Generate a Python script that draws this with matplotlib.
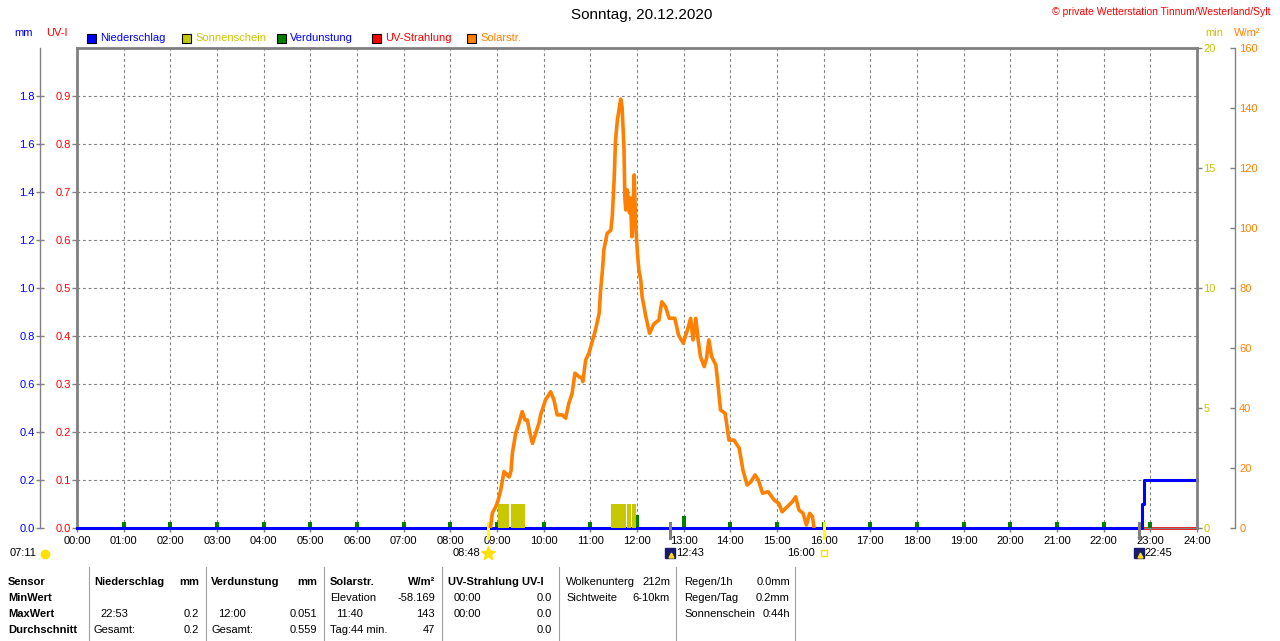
import numpy as np
import matplotlib.pyplot as plt
import matplotlib.transforms as mtransforms
from matplotlib.patches import Rectangle
from matplotlib.lines import Line2D

plt.rcParams['font.family'] = ['Liberation Sans', 'DejaVu Sans']

# ── Daten ────────────────────────────────────────────────────────
solar_time = [8.86, 8.90, 8.97, 9.02, 9.08, 9.15, 9.20, 9.26, 9.30, 9.33, 9.40, 9.47,
              9.54, 9.60, 9.65, 9.70, 9.76, 9.83, 9.90, 9.94, 10.04, 10.15, 10.22,
              10.29, 10.40, 10.47, 10.54, 10.61, 10.67, 10.76, 10.82, 10.84, 10.90,
              10.97, 11.04, 11.11, 11.19, 11.22, 11.26, 11.29, 11.36, 11.44, 11.47,
              11.51, 11.54, 11.58, 11.65, 11.68, 11.72, 11.74, 11.76, 11.79, 11.82,
              11.84, 11.86, 11.89, 11.92, 11.94, 11.97, 12.01, 12.04, 12.08, 12.11,
              12.15, 12.19, 12.27, 12.36, 12.47, 12.53, 12.61, 12.69, 12.81, 12.89,
              12.99, 13.08, 13.15, 13.20, 13.26, 13.31, 13.36, 13.44, 13.49, 13.54,
              13.60, 13.69, 13.74, 13.79, 13.89, 13.97, 14.08, 14.19, 14.27, 14.36,
              14.44, 14.53, 14.60, 14.69, 14.81, 14.94, 15.04, 15.11, 15.22, 15.33,
              15.40, 15.47, 15.56, 15.63, 15.70, 15.76, 15.79]
solar_wm2 = [0, 5, 7, 9, 12.7, 18.8, 18, 17, 19, 25, 31.6, 34.9,
             38.8, 36, 36, 32, 28.2, 31.6, 35, 38, 42.7, 45.4, 42.7,
             37.7, 37.7, 36.6, 41.6, 44.9, 51.6, 50.4, 50, 48.8, 56,
             58.3, 62.1, 66, 71.6, 79.3, 86, 92.7, 98.2, 99.3, 103.8,
             116, 129.3, 136, 143, 140.4, 127, 110, 106, 112.7, 108,
             105, 110, 97.1, 108, 117.7, 101.6, 91.6, 86, 82.7, 77,
             73.8, 70.4, 64.9, 68, 69.3, 75.4, 73.8, 69.9, 69.9, 64.3,
             61.6, 66, 69.9, 62.7, 69.9, 62.7, 57.1, 53.8, 56.6, 62.7,
             57.1, 54.3, 47.1, 39.3, 38.2, 29.3, 29.3, 26.6, 19.3, 14.3,
             15.4, 17.7, 16, 11.6, 12.1, 9.3, 8.2, 5.4, 7.1, 8.8,
             10.4, 6, 4.9, 1, 4.9, 3.8, 0.4]

sun_start = [9.03, 9.29, 11.45, 11.79, 11.90]
sun_end = [9.26, 9.59, 11.76, 11.87, 11.97]
sun_min = [1.0, 1.0, 1.0, 1.0, 1.0]

evap_hours = list(range(1, 24))
evap_mm = [0.024] * 11 + [0.055, 0.048] + [0.024] * 10

precip_time = [0, 22.83, 22.87, 24]
precip_mm = [0.0, 0.1, 0.2, 0.2]

uv_time = [0, 24]
uv_index = [0.0, 0.0]

hours = list(range(25))
hour_labels = [f"{h:02d}:00" for h in hours]
mm_ticks = [0.0, 0.2, 0.4, 0.6, 0.8, 1.0, 1.2, 1.4, 1.6, 1.8]
uv_ticks = [0.0, 0.1, 0.2, 0.3, 0.4, 0.5, 0.6, 0.7, 0.8, 0.9]
min_ticks = [0, 5, 10, 15, 20]
wm2_ticks = [0, 20, 40, 60, 80, 100, 120, 140, 160]

event_times = [8.80, 12.717, 16.0, 22.75]
event_labels = ["08:48", "12:43", "16:00", "22:45"]

legend_names = ["Niederschlag", "Sonnenschein", "Verdunstung", "UV-Strahlung", "Solarstr."]
legend_colors = ["#0000FF", "#C8C800", "#008000", "#FF0000", "#FF8000"]
legend_text_colors = ["#0000FF", "#C8C800", "#0000FF", "#FF0000", "#FF8000"]

# Tabelle unten: (x, zeile, text, ausrichtung, fett)
table_cells = [
    (8, 0, "Sensor", "left", True), (8, 1, "MinWert", "left", True),
    (8, 2, "MaxWert", "left", True), (8, 3, "Durchschnitt", "left", True),
    (94, 0, "Niederschlag", "left", True), (199, 0, "mm", "right", True),
    (100, 2, "22:53", "left", False), (199, 2, "0.2", "right", False),
    (94, 3, "Gesamt:", "left", False), (199, 3, "0.2", "right", False),
    (211, 0, "Verdunstung", "left", True), (317, 0, "mm", "right", True),
    (218, 2, "12:00", "left", False), (317, 2, "0.051", "right", False),
    (212, 3, "Gesamt:", "left", False), (317, 3, "0.559", "right", False),
    (330, 0, "Solarstr.", "left", True), (435, 0, "W/m²", "right", True),
    (330, 1, "Elevation", "left", False), (435, 1, "-58.169", "right", False),
    (336, 2, "11:40", "left", False), (435, 2, "143", "right", False),
    (330, 3, "Tag:44 min.", "left", False), (435, 3, "47", "right", False),
    (448, 0, "UV-Strahlung UV-I", "left", True),
    (454, 1, "00:00", "left", False), (552, 1, "0.0", "right", False),
    (454, 2, "00:00", "left", False), (552, 2, "0.0", "right", False),
    (552, 3, "0.0", "right", False),
    (566, 0, "Wolkenunterg", "left", False), (670, 0, "212m", "right", False),
    (566, 1, "Sichtweite", "left", False), (670, 1, "6-10km", "right", False),
    (684, 0, "Regen/1h", "left", False), (790, 0, "0.0mm", "right", False),
    (684, 1, "Regen/Tag", "left", False), (790, 1, "0.2mm", "right", False),
    (684, 2, "Sonnenschein", "left", False), (790, 2, "0:44h", "right", False),
]
table_rows_y = [582, 598, 614, 630]
table_separators = [89, 206, 324, 442, 559, 676, 795]

W, H = 1280, 641
PT = 0.72  # Pixel -> Punkt bei 100 dpi


def fx(x):
    return x / W


def fy(y):
    return 1 - y / H


GRAY = "#808080"

fig = plt.figure(figsize=(12.8, 6.41), dpi=100, facecolor="white")

# ── Hauptachse (mm) ──────────────────────────────────────────────
ax = fig.add_axes([fx(77), fy(528), 1120 / W, 480 / H])
ax.patch.set_visible(False)
ax.set_xlim(0, 24)
ax.set_ylim(0, 2.0)
ax.tick_params(axis="x", direction="out", length=4 * PT, width=1, color=GRAY,
               pad=3, labelsize=8)
ax.tick_params(axis="y", direction="inout", length=8 * PT, width=1, color=GRAY,
               pad=1, labelsize=8, labelcolor="#0000FF")
ax.set_xticks(hours)
ax.set_xticklabels(hour_labels)
ax.set_yticks(mm_ticks)
ax.set_yticklabels([f"{v:.1f}" for v in mm_ticks])
ax.spines["left"].set_position(("outward", 37 * PT))
ax.spines["left"].set_color(GRAY)
ax.spines["left"].set_linewidth(1)
ax.spines["right"].set_visible(False)
ax.spines["top"].set_color(GRAY)
ax.spines["top"].set_linewidth(2)
ax.spines["bottom"].set_color(GRAY)
ax.spines["bottom"].set_linewidth(1)
ax.grid(True, color=GRAY, linestyle=(0, (2.5, 2.5)), linewidth=0.8)

ax.bar(evap_hours, evap_mm, width=0.09, color="#008000", zorder=3)
ax.plot(precip_time, precip_mm, drawstyle="steps-post", color="#0000FF",
        linewidth=2.2, zorder=4, clip_on=False)

# ── UV-I (links, am Rahmen) ──────────────────────────────────────
ax_uv = ax.twinx()
ax_uv.set_zorder(-1)
ax_uv.set_ylim(0, 1.0)
ax_uv.yaxis.set_ticks_position("left")
ax_uv.yaxis.set_label_position("left")
ax_uv.tick_params(axis="y", direction="out", length=5 * PT, width=1, color=GRAY,
                  pad=1, labelsize=8, labelcolor="#FF0000")
ax_uv.set_yticks(uv_ticks)
ax_uv.set_yticklabels([f"{v:.1f}" for v in uv_ticks])
for name, sp in ax_uv.spines.items():
    sp.set_visible(name == "left")
ax_uv.spines["left"].set_color(GRAY)
ax_uv.spines["left"].set_linewidth(2)
ax_uv.plot(uv_time, uv_index, color="#FF0000", linewidth=2, clip_on=False)

# ── Sonnenschein (min, rechts am Rahmen) ─────────────────────────
ax_min = ax.twinx()
ax_min.set_ylim(0, 20)
ax_min.tick_params(axis="y", direction="out", length=5 * PT, width=1, color=GRAY,
                   pad=1, labelsize=8, labelcolor="#C8C800")
ax_min.set_yticks(min_ticks)
ax_min.set_yticklabels([str(v) for v in min_ticks])
for name, sp in ax_min.spines.items():
    sp.set_visible(name == "right")
ax_min.spines["right"].set_color(GRAY)
ax_min.spines["right"].set_linewidth(2)
ax_min.bar(sun_start, sun_min, width=np.subtract(sun_end, sun_start),
           align="edge", color="#C8C800", zorder=2)

# ── Solarstrahlung (W/m², aeussere rechte Achse) ─────────────────
ax_sol = ax.twinx()
ax_sol.set_ylim(0, 160)
ax_sol.tick_params(axis="y", direction="in", length=5 * PT, width=1, color=GRAY,
                   pad=3, labelsize=8, labelcolor="#FF8000")
ax_sol.set_yticks(wm2_ticks)
ax_sol.set_yticklabels([str(v) for v in wm2_ticks])
for name, sp in ax_sol.spines.items():
    sp.set_visible(name == "right")
ax_sol.spines["right"].set_position(("outward", 38 * PT))
ax_sol.spines["right"].set_color(GRAY)
ax_sol.spines["right"].set_linewidth(1)
ax_sol.plot(solar_time, solar_wm2, color="#FF8000", linewidth=2.6, zorder=5)

# ── Auf-/Untergangsmarken ────────────────────────────────────────
trans = mtransforms.blended_transform_factory(ax.transData, ax.transAxes)
mark_colors = ["#FFFF00", GRAY, "#FFFF00", GRAY]
for t, lab, c in zip(event_times, event_labels, mark_colors):
    ax.plot([t, t], [0.01, -0.02], transform=trans, color=c, linewidth=2.2,
            clip_on=False, zorder=6)
ylab = -25 / 480
# Sonnenaufgang
ax.text(event_times[0] - 0.15, ylab, event_labels[0], transform=trans, fontsize=8,
        ha="right", va="center")
ax.plot(event_times[0], ylab, transform=trans, marker="*", markersize=10,
        color="#FFE000", clip_on=False)
# Mondauf-/untergang
for i in (1, 3):
    ax.plot(event_times[i], ylab, transform=trans, marker="s", markersize=7,
            color="#1a1a6e", clip_on=False)
    ax.plot(event_times[i] + 0.02, ylab - 0.004, transform=trans, marker="^",
            markersize=3.5, color="#FFE000", clip_on=False)
    ax.text(event_times[i] + 0.12, ylab, event_labels[i], transform=trans,
            fontsize=8, ha="left", va="center")
# Sonnenuntergang
ax.text(event_times[2] - 0.18, ylab, event_labels[2], transform=trans, fontsize=8,
        ha="right", va="center")
ax.plot(event_times[2], ylab, transform=trans, marker="s", markersize=5,
        markerfacecolor="white", markeredgecolor="#FFE000", clip_on=False)
fig.text(fx(10), fy(553), "07:11", fontsize=8, ha="left", va="center")
fig.add_artist(Line2D([fx(45)], [fy(554)], marker="o", markersize=6,
                      color="#FFE000"))

# ── Kopfzeile ────────────────────────────────────────────────────
fig.text(fx(642), fy(15), "Sonntag, 20.12.2020", fontsize=11, ha="center", va="center")
fig.text(fx(1270), fy(12), "© private Wetterstation Tinnum/Westerland/Sylt",
         fontsize=7.5, color="#FF0000", ha="right", va="center")
fig.text(fx(14), fy(33), "mm", fontsize=8, color="#0000FF", ha="left", va="center")
fig.text(fx(46), fy(33), "UV-I", fontsize=8, color="#FF0000", ha="left", va="center")
fig.text(fx(1205), fy(33), "min", fontsize=8, color="#C8C800", ha="left", va="center")
fig.text(fx(1234), fy(33), "W/m²", fontsize=8, color="#FF8000", ha="left", va="center")

for i, (name, c, tc) in enumerate(zip(legend_names, legend_colors, legend_text_colors)):
    x0 = 87 + 95 * i
    fig.add_artist(Rectangle((fx(x0), fy(43)), 9 / W, 9 / H, facecolor=c,
                             edgecolor="black", linewidth=0.8))
    fig.text(fx(x0 + 13), fy(38), name, fontsize=8, color=tc, ha="left", va="center")

# ── Tabelle ──────────────────────────────────────────────────────
for x, r, txt, ha, bold in table_cells:
    fig.text(fx(x), fy(table_rows_y[r]), txt, fontsize=8, ha=ha, va="center",
             fontweight="bold" if bold else "normal")
for xs in table_separators:
    fig.add_artist(Line2D([fx(xs), fx(xs)], [fy(567), fy(641)], color="#a0a0a0",
                          linewidth=0.8))

fig.savefig("out.png", dpi=100)
